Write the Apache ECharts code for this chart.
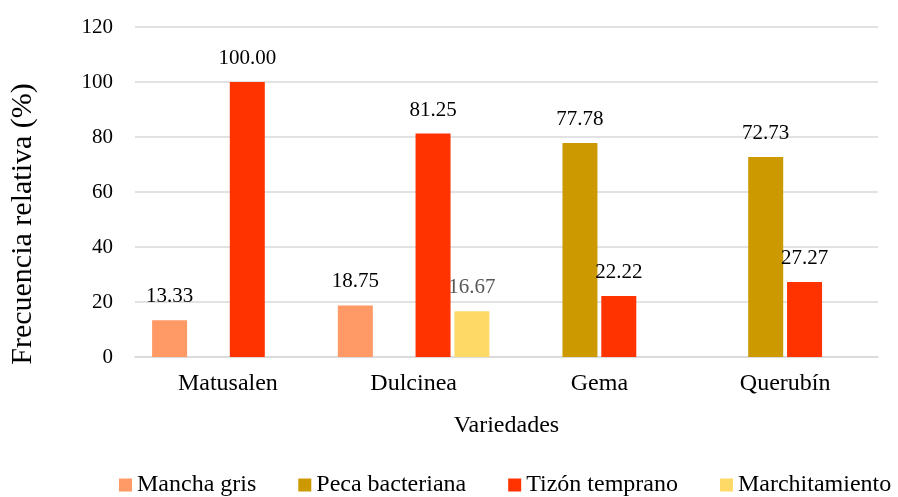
<!DOCTYPE html>
<html>
	<head>
		<meta charset="UTF-8">
		<title>Frecuencia relativa</title>
		<style>
			html, body { margin: 0; padding: 0; background: #fff; }
			#chart { width: 898px; height: 497px; }
		</style>
	</head>
	<body>
		<div id="chart"></div>
	</body>
	<script src="https://cdn.jsdelivr.net/npm/echarts@6/dist/echarts.min.js" type="text/javascript" charset="utf-8"></script>
	<script type="text/javascript">
		// datos
		var variedades = ['Matusalen', 'Dulcinea', 'Gema', 'Querubín'];
		var manchaGris = [13.33, 18.75, null, null];
		var pecaBacteriana = [null, null, 77.78, 72.73];
		var tizonTemprano = [100.00, 81.25, 22.22, 27.27];
		var marchitamiento = [null, 16.67, null, null];
		var ticksY = [0, 120, 20]; // min, max, intervalo

		var fuente = 'Liberation Serif';

		var chart = echarts.init(document.getElementById('chart'));

		function serie(nombre, datos, color, colorEtiqueta) {
			return {
				name: nombre,
				type: 'bar',
				data: datos,
				barWidth: 35,
				barGap: '11%',
				itemStyle: { color: color },
				label: {
					show: true,
					position: 'top',
					distance: 13,
					color: colorEtiqueta || '#000',
					fontFamily: fuente,
					fontSize: 21,
					formatter: function (p) { return p.value == null ? '' : p.value.toFixed(2); }
				}
			};
		}

		var option = {
			animation: false,
			textStyle: { fontFamily: fuente },
			grid: { left: 135, right: 20, top: 27, bottom: 140 },
			legend: {
				top: 468,
				left: 114,
				itemWidth: 13,
				itemHeight: 13,
				itemGap: 42,
				icon: 'rect',
				textStyle: { fontFamily: fuente, fontSize: 24, color: '#000' },
				data: ['Mancha gris', 'Peca bacteriana', 'Tizón temprano', 'Marchitamiento']
			},
			xAxis: {
				type: 'category',
				data: variedades,
				name: 'Variedades',
				nameLocation: 'middle',
				nameGap: 57,
				nameTextStyle: { fontFamily: fuente, fontSize: 24, color: '#000' },
				axisLine: { lineStyle: { color: '#d9d9d9', width: 1.5 } },
				axisTick: { show: false },
				axisLabel: { fontFamily: fuente, fontSize: 24, color: '#000', margin: 15 }
			},
			yAxis: {
				type: 'value',
				min: ticksY[0],
				max: ticksY[1],
				interval: ticksY[2],
				name: 'Frecuencia relativa (%)',
				nameLocation: 'middle',
				nameGap: 97,
				nameTextStyle: { fontFamily: fuente, fontSize: 30, color: '#000', padding: [0, 64, 0, 0] },
				axisLine: { show: false },
				axisTick: { show: false },
				axisLabel: { fontFamily: fuente, fontSize: 21, color: '#000', margin: 22 },
				splitLine: { lineStyle: { color: '#d9d9d9', width: 1.5 } }
			},
			series: [
				serie('Mancha gris', manchaGris, '#ff9966'),
				serie('Peca bacteriana', pecaBacteriana, '#cc9900'),
				serie('Tizón temprano', tizonTemprano, '#ff3300'),
				serie('Marchitamiento', marchitamiento, '#ffd966', '#595959')
			]
		};

		chart.setOption(option);
	</script>
</html>
